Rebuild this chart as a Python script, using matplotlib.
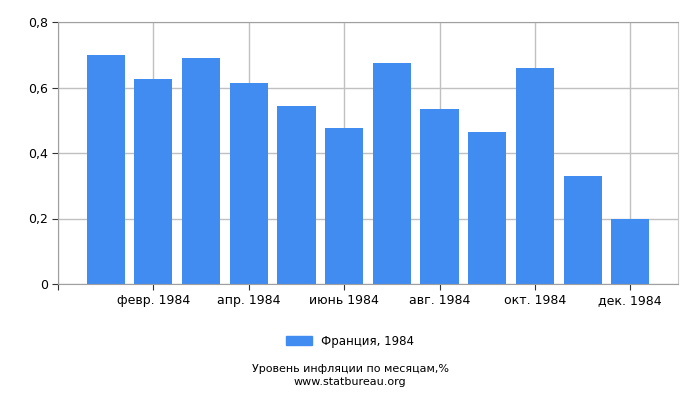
import matplotlib
matplotlib.use("Agg")
import matplotlib.pyplot as plt
from matplotlib.patches import Patch

months = ["янв. 1984", "февр. 1984", "март 1984", "апр. 1984", "май 1984", "июнь 1984",
          "июль 1984", "авг. 1984", "сент. 1984", "окт. 1984", "нояб. 1984", "дек. 1984"]
values = [0.70, 0.625, 0.69, 0.615, 0.545, 0.475, 0.675, 0.535, 0.465, 0.66, 0.33, 0.20]
y_ticks = [0, 0.2, 0.4, 0.6, 0.8]
y_labels = ["0", "0,2", "0,4", "0,6", "0,8"]
series_name = "Франция, 1984"
bar_color = "#418CF0"

plt.rcParams["font.family"] = "DejaVu Sans"
fig = plt.figure(figsize=(7, 4), dpi=100)
ax = fig.add_axes([58 / 700, 116 / 400, 620 / 700, 262 / 400])

x = list(range(len(values)))
ax.bar(x, values, width=0.8, color=bar_color, zorder=2)

ax.set_xlim(-1, 12)
ax.set_ylim(0, 0.8)
xt = [-1] + x[1::2]
ax.set_xticks(xt)
ax.set_xticklabels([""] + months[1::2], fontsize=9)
ax.set_yticks(y_ticks)
ax.set_yticklabels(y_labels, fontsize=9)
ax.grid(True, color="#c0c0c0", linewidth=1, zorder=0)
ax.set_axisbelow(True)
for s in ax.spines.values():
    s.set_color("#a0a0a0")
ax.spines["right"].set_color("#c8c8c8")
ax.tick_params(axis="both", length=4, color="#333333", pad=3)

fig.legend(handles=[Patch(color=bar_color, label=series_name)], loc="center",
           bbox_to_anchor=(0.5, 1 - 341 / 400), frameon=False, fontsize=8.5,
           handlelength=2.2, handleheight=0.8)
fig.text(0.5, 1 - 369 / 400, "Уровень инфляции по месяцам,%", ha="center", va="center", fontsize=8)
fig.text(0.5, 1 - 382 / 400, "www.statbureau.org", ha="center", va="center", fontsize=8)

fig.savefig("out.png", dpi=100)
